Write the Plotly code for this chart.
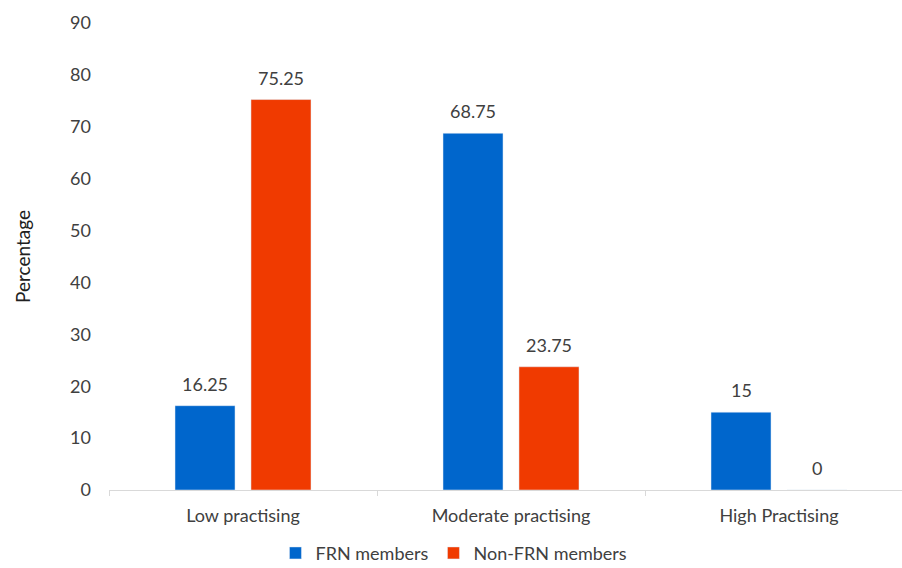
import plotly.graph_objects as go

categories = ["Low practising", "Moderate practising", "High Practising"]
frn_members = [16.25, 68.75, 15]
non_frn_members = [75.25, 23.75, 0]
frn_labels = ["16.25", "68.75", "15"]
non_frn_labels = ["75.25", "23.75", "0"]

font_family = "Lato, Open Sans, sans-serif"
text_color = "#404040"

fig = go.Figure()
fig.add_trace(go.Bar(name="FRN members", x=categories, y=frn_members, marker_color="#0066CC"))
fig.add_trace(go.Bar(name="Non-FRN members", x=categories, y=non_frn_members, marker_color="#F03A00"))

# data labels above bars
for values, labels, shift in ((frn_members, frn_labels, -38), (non_frn_members, non_frn_labels, 38)):
    for cat, v, lab in zip(categories, values, labels):
        fig.add_annotation(x=cat, y=v, text=lab, showarrow=False, xshift=shift,
                           yanchor="bottom", yshift=9,
                           font=dict(size=18, color=text_color, family=font_family))

fig.update_layout(
    width=902, height=568,
    margin=dict(l=109, r=0, t=23, b=78, autoexpand=False),
    paper_bgcolor="white", plot_bgcolor="white",
    font=dict(family=font_family, color=text_color, size=18),
    barmode="group", bargap=0.433, bargroupgap=0.21,
    showlegend=True,
    legend=dict(orientation="h", x=0.435, xanchor="center", y=-0.175, yanchor="bottom",
                font=dict(size=18, color=text_color), itemwidth=30, traceorder="normal",
                bgcolor="rgba(0,0,0,0)"),
    xaxis=dict(
        range=[-0.5, -0.5 + 793 / 268],
        showline=True, linecolor="#D9D9D9", linewidth=1,
        ticks="outside", tickson="boundaries", ticklen=5, tickcolor="#D9D9D9",
        showgrid=False, tickfont=dict(size=18, color=text_color), ticklabelstandoff=9,
    ),
    yaxis=dict(
        range=[0, 90], dtick=10, showgrid=False, zeroline=False, showline=False,
        tickfont=dict(size=18, color=text_color), ticklabelstandoff=17,
        title=dict(text="Percentage", font=dict(size=19, color="#202020"), standoff=34),
    ),
)

fig.write_html("out.html")
